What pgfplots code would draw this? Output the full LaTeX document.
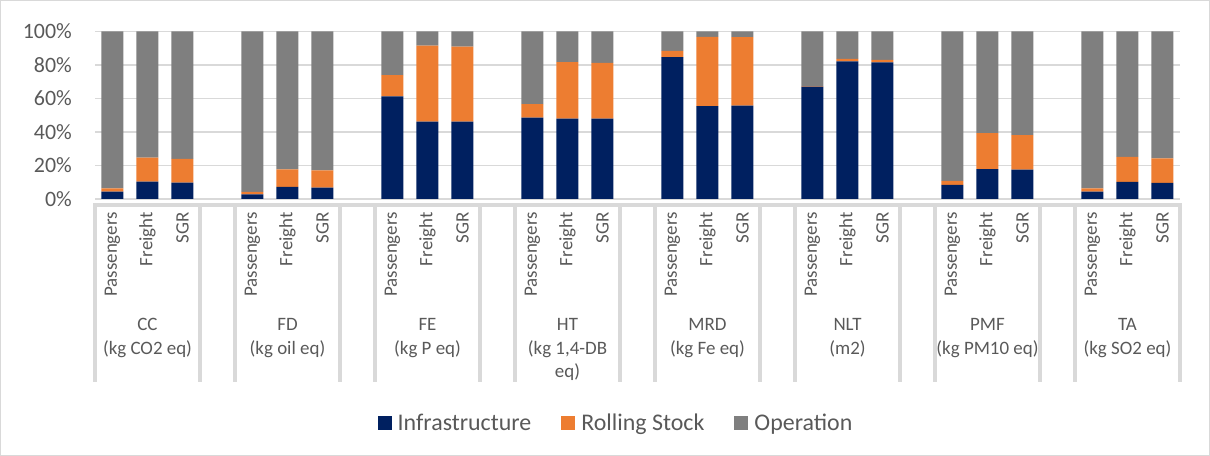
\documentclass[border=0pt]{standalone}
\usepackage{fontspec}
\setmainfont{Carlito}
\usepackage{pgfplots}
\usepackage{pgfplotstable}
\pgfplotsset{compat=1.18}

\definecolor{infra}{HTML}{002060}
\definecolor{rolling}{HTML}{ED7D31}
\definecolor{oper}{HTML}{7F7F7F}
\definecolor{gridgray}{HTML}{D9D9D9}
\definecolor{txt}{HTML}{595959}

% share (%) of each life-cycle stage; x = slot on the category axis
\pgfplotstableread{
x  inf  roll  op
0  4.4  2.0   93.6
1  10.4 14.3  75.3
2  9.8  14.1  76.1
4  2.8  1.4   95.8
5  7.2  10.5  82.3
6  6.8  10.3  82.9
8  61.2 12.7  26.1
9  46.2 45.4  8.4
10 46.2 44.8  9.0
12 48.6 8.0   43.4
13 48.0 33.7  18.3
14 48.0 33.3  18.7
16 84.7 3.7   11.6
17 55.4 41.4  3.2
18 55.8 40.8  3.4
20 67.1 0.3   32.6
21 82.1 1.6   16.3
22 81.5 1.6   16.9
24 8.4  2.4   89.2
25 17.9 21.5  60.6
26 17.5 20.7  61.8
28 4.4  2.0   93.6
29 10.2 14.9  74.9
30 9.6  14.7  75.7
}\shares

\newcommand\catfont{\fontsize{19}{23.5}\selectfont}
% group label under three bars: centre x, then up to three lines
\newcommand\grp[4]{%
  \node[anchor=base, inner sep=0pt, text=txt, font=\catfont] at (#1bp,125bp) {#2};
  \node[anchor=base, inner sep=0pt, text=txt, font=\catfont] at (#1bp,101.5bp) {#3};
  \node[anchor=base, inner sep=0pt, text=txt, font=\catfont] at (#1bp,78bp) {#4};
}

\begin{document}
\begin{tikzpicture}
\useasboundingbox (0,0) rectangle (1210bp,456bp);
\draw[gridgray, line width=1bp] (0.5bp,0.5bp) rectangle (1209.5bp,455.5bp);

\begin{axis}[
  at={(95bp,257bp)}, anchor=south west,
  scale only axis, width=1085bp, height=167.5bp,
  xmin=-0.5, xmax=30.5, ymin=0, ymax=100,
  enlargelimits=false,
  ybar stacked, bar width=22bp,
  separate axis lines,
  axis line style={draw=none},
  major tick length=0pt,
  ytick={0,20,40,60,80,100},
  yticklabels={0\%,20\%,40\%,60\%,80\%,100\%},
  yticklabel style={anchor=east, inner sep=0pt, xshift=-23bp,
    text=txt, font=\fontsize{22}{26}\selectfont},
  ymajorgrids,
  grid style={gridgray, line width=1.3bp},
  xtick={0,1,2,4,5,6,8,9,10,12,13,14,16,17,18,20,21,22,24,25,26,28,29,30},
  xticklabels={Passengers,Freight,SGR,Passengers,Freight,SGR,
    Passengers,Freight,SGR,Passengers,Freight,SGR,
    Passengers,Freight,SGR,Passengers,Freight,SGR,
    Passengers,Freight,SGR,Passengers,Freight,SGR},
  xticklabel style={rotate=90, anchor=east, inner sep=0pt,
    text=txt, font=\catfont},
  xticklabel shift=13bp,
  legend columns=3,
  legend style={draw=none, fill=none,
    at={(axis description cs:0.4793,-1.3373)}, anchor=center,
    font=\fontsize{24}{28}\selectfont, text=txt,
    nodes={inner sep=0pt},
    /tikz/every odd column/.append style={column sep=6bp},
    /tikz/every even column/.append style={column sep=30bp}},
]
\addplot[fill=infra, draw=none,
  legend image code/.code={\fill[infra] (0bp,-7bp) rectangle (14bp,7bp);}]
  table[x=x, y=inf] {\shares};
\addplot[fill=rolling, draw=none,
  legend image code/.code={\fill[rolling] (0bp,-7bp) rectangle (14bp,7bp);}]
  table[x=x, y=roll] {\shares};
\addplot[fill=oper, draw=none,
  legend image code/.code={\fill[oper] (0bp,-7bp) rectangle (14bp,7bp);}]
  table[x=x, y=op] {\shares};
\legend{Infrastructure, Rolling Stock, Operation}
\end{axis}

% multi-level category frame
\draw[gridgray, line width=4bp] (93bp,250.5bp) -- (1182bp,250.5bp);
\foreach \k in {0,3,4,7,8,11,12,15,16,19,20,23,24,27,28,31}
  \draw[gridgray, line width=4bp] ({95bp+35bp*\k},252.5bp) -- ({95bp+35bp*\k},74bp);

\grp{147.5}{CC}{(kg CO2 eq)}{}
\grp{287.5}{FD}{(kg oil eq)}{}
\grp{427.5}{FE}{(kg P eq)}{}
\grp{567.5}{HT}{(kg 1,4-DB}{eq)}
\grp{707.5}{MRD}{(kg Fe eq)}{}
\grp{847.5}{NLT}{(m2)}{}
\grp{987.5}{PMF}{(kg PM10 eq)}{}
\grp{1127.5}{TA}{(kg SO2 eq)}{}
\end{tikzpicture}
\end{document}
